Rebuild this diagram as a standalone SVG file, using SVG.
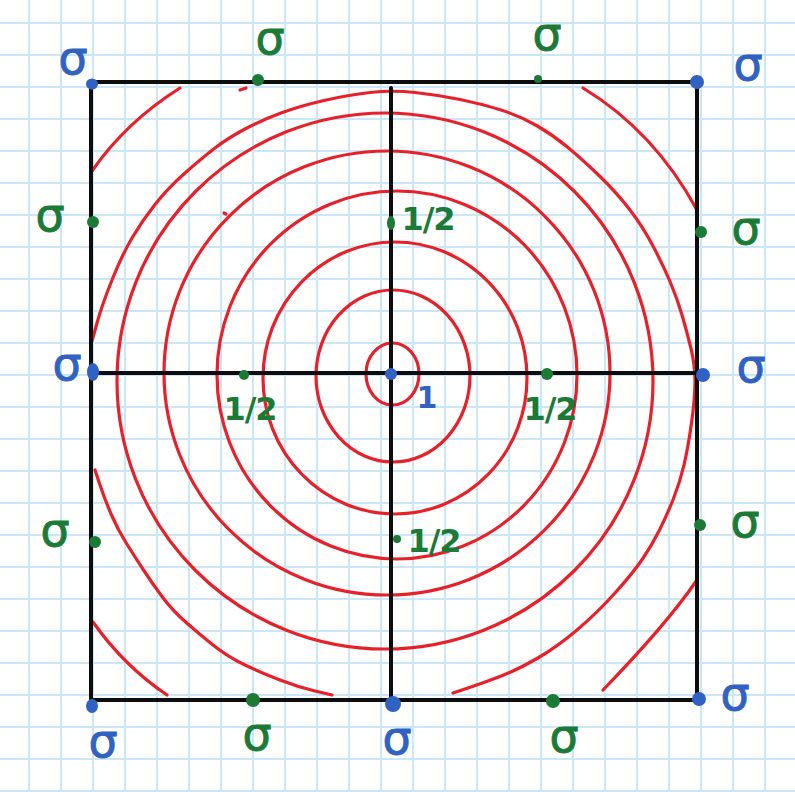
<svg xmlns="http://www.w3.org/2000/svg" width="795" height="792" viewBox="0 0 795 792">
<defs>
<pattern id="grid" x="28" y="22" width="32" height="32" patternUnits="userSpaceOnUse">
<rect x="0" y="0" width="2" height="32" fill="#c9e7f8"/>
<rect x="0" y="0" width="32" height="2" fill="#c9e7f8"/>
</pattern>
<style>
.c{fill:none;stroke:#e8202a;stroke-width:3.2;stroke-linecap:round;stroke-linejoin:round}
.k{stroke:#0d0d0d;stroke-width:4;stroke-linecap:round;fill:none}
.bd{fill:#2f62c2}
.gd{fill:#1b7a36}
.bt{fill:#2f62c2;stroke:#2f62c2;stroke-width:0.9;font-family:"DejaVu Sans",sans-serif;font-size:46px;text-anchor:middle}
.gt{fill:#1b7a36;stroke:#1b7a36;stroke-width:0.9;font-family:"DejaVu Sans",sans-serif;font-size:46px;text-anchor:middle}
.gh{fill:#1b7a36;font-family:"DejaVu Sans",sans-serif;font-size:32px;text-anchor:middle;letter-spacing:-1px;font-weight:bold}
.bo{fill:#2f62c2;font-family:"DejaVu Sans",sans-serif;font-size:30px;text-anchor:middle;font-weight:bold}
</style>
</defs>
<rect width="795" height="792" fill="#ffffff"/>
<rect width="795" height="792" fill="url(#grid)"/>

<g id="contours">
<ellipse class="c" cx="392.5" cy="374" rx="26.5" ry="31"/>
<ellipse class="c" cx="393" cy="376" rx="77" ry="86"/>
<ellipse class="c" cx="395" cy="378" rx="132" ry="136"/>
<ellipse class="c" cx="397" cy="375" rx="180" ry="184"/>
<ellipse class="c" cx="387" cy="373" rx="223" ry="222"/>
<ellipse class="c" cx="385" cy="381" rx="268" ry="268"/>
<path class="c" d="M92,341 L97,323 Q102,305 112,280 Q122,255 132,238 Q142,221 155,204.5 Q168,188 185,173 Q202,158 215,148 Q228,138 245,129 Q262,120 281,113 Q300,106 324,100.5 Q348,95 370,92.5 Q392,90 415,92.5 Q438,95 460,99.5 Q482,104 501,110 Q520,116 536.5,125.5 Q553,135 568,147.5 Q583,160 600,176.5 Q617,193 630,210 Q643,227 653,246 Q663,265 670,281.5 Q677,298 682,315 Q687,332 691,348.5 Q695,365 695,381.5 Q695,398 691.5,423 Q688,448 684,465 Q680,482 673.5,498.5 Q667,515 659.5,530 Q652,545 642.5,559 Q633,573 615,593 Q597,613 577,630 Q557,647 537,658.5 Q517,670 500,676.5 Q483,683 468,688 L453,693"/>
<path class="c" d="M95,470 L100,485 Q105,500 111.5,515 Q118,530 126.5,543.5 Q135,557 143.5,570 Q152,583 162,596.5 Q172,610 185,621.5 Q198,633 213,645 Q228,657 245,665 Q262,673 280,680 Q298,687 315,691 L332,695"/>
<path class="c" d="M92,171 Q126,122 180,88"/>
<path class="c" d="M583,88 Q654,131 697,210"/>
<path class="c" d="M697,580 Q666,625 603,690"/>
<path class="c" d="M93,622 Q124,666 167,695"/>
<path class="c" d="M240,90 L246,88"/>
<path class="c" stroke-width="1.5" d="M224,213 L226,214"/>
</g>

<g id="connectors">
<line class="k" x1="91" y1="82" x2="697" y2="82"/>
<line class="k" x1="91" y1="82" x2="91" y2="700"/>
<line class="k" x1="697" y1="82" x2="697" y2="700"/>
<line class="k" x1="91" y1="700" x2="697" y2="700"/>
<line class="k" x1="391" y1="88" x2="391" y2="700"/>
<line class="k" x1="91" y1="373" x2="697" y2="373"/>
</g>

<g id="n-tl"><ellipse class="bd" cx="92" cy="84" rx="6" ry="5.5"/><text class="bt" x="73" y="74">σ</text></g>
<g id="n-tr"><circle class="bd" cx="697" cy="82" r="7"/><text class="bt" x="748" y="80">σ</text></g>
<g id="n-ml"><ellipse class="bd" cx="93" cy="372" rx="6" ry="9"/><text class="bt" x="67" y="380">σ</text></g>
<g id="n-mr"><circle class="bd" cx="703" cy="375" r="7"/><text class="bt" x="751" y="382">σ</text></g>
<g id="n-bl"><ellipse class="bd" cx="92" cy="706" rx="6" ry="7"/><text class="bt" x="103" y="757">σ</text></g>
<g id="n-bm"><circle class="bd" cx="393" cy="704" r="8"/><text class="bt" x="397" y="754">σ</text></g>
<g id="n-br"><circle class="bd" cx="699" cy="699" r="7"/><text class="bt" x="735" y="710">σ</text></g>
<g id="n-c"><circle class="bd" cx="391" cy="374" r="6"/><text class="bo" x="427" y="408">1</text></g>

<g id="e-t1"><circle class="gd" cx="258" cy="80" r="6"/><text class="gt" x="270" y="54">σ</text></g>
<g id="e-t2"><circle class="gd" cx="538" cy="79" r="4"/><text class="gt" x="547" y="50">σ</text></g>
<g id="e-l1"><circle class="gd" cx="93" cy="222" r="6"/><text class="gt" x="50" y="231">σ</text></g>
<g id="e-l2"><circle class="gd" cx="95" cy="542" r="6"/><text class="gt" x="55" y="546">σ</text></g>
<g id="e-r1"><circle class="gd" cx="701" cy="232" r="6"/><text class="gt" x="746" y="244">σ</text></g>
<g id="e-r2"><circle class="gd" cx="700" cy="525" r="6"/><text class="gt" x="745" y="537">σ</text></g>
<g id="e-b1"><circle class="gd" cx="253" cy="700" r="7"/><text class="gt" x="257" y="750">σ</text></g>
<g id="e-b2"><circle class="gd" cx="553" cy="701" r="7"/><text class="gt" x="564" y="752">σ</text></g>

<g id="h-t"><ellipse class="gd" cx="391" cy="223" rx="4" ry="7"/><text class="gh" x="428" y="230">1/2</text></g>
<g id="h-l"><circle class="gd" cx="244" cy="375" r="5"/><text class="gh" x="250" y="420">1/2</text></g>
<g id="h-r"><circle class="gd" cx="547" cy="374" r="6"/><text class="gh" x="550" y="420">1/2</text></g>
<g id="h-b"><circle class="gd" cx="397" cy="539" r="4"/><text class="gh" x="434" y="552">1/2</text></g>
</svg>
